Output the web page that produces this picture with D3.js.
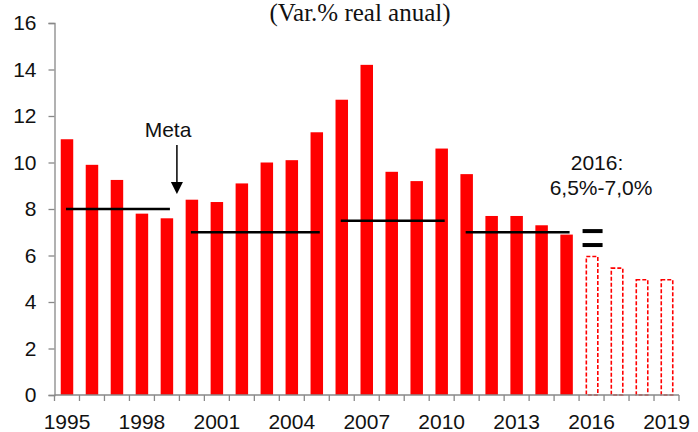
<!DOCTYPE html>
<html><head><meta charset="utf-8">
<script src="https://cdn.jsdelivr.net/npm/d3@7"></script>
<style>body{margin:0;background:#fff}svg{display:block}</style>
</head><body>
<script>
const years = d3.range(1995, 2020).map(String);
const values = [11.0, 9.9, 9.25, 7.8, 7.6, 8.4, 8.3, 9.1, 10.0, 10.1, 11.3, 12.7, 14.2, 9.6, 9.2, 10.6, 9.5, 7.7, 7.7, 7.3, 6.9, 6.0, 5.5, 5.0, 5.0];
const projected = ["2016", "2017", "2018", "2019"];
const tickYears = ["1995","1998","2001","2004","2007","2010","2013","2016","2019"];
const yTicks = [0,2,4,6,8,10,12,14,16];
const metaStart = ["1995","2000","2006","2011"];
const metaEnd   = ["1999","2005","2010","2015"];
const metaValue = [8.0, 7.0, 7.5, 7.0];
const range2016 = [7.05, 6.45];

const W = 698, H = 432;
const svg = d3.select("body").append("svg").attr("width", W).attr("height", H);

const x = d3.scaleBand().domain(years).range([54.5, 679]).paddingInner(0.5).paddingOuter(0.25);
const y = d3.scaleLinear().domain([0, 16]).range([395, 23]);

// title
svg.append("text").attr("x", 360).attr("y", 21).attr("text-anchor", "middle")
  .attr("font-family", "Liberation Serif, serif").attr("font-size", 25).attr("fill", "#111")
  .text("(Var.% real anual)");

// bars
const data = years.map((yr, i) => ({yr, v: values[i], proj: projected.includes(yr)}));
svg.selectAll("rect.bar").data(data).join("rect")
  .attr("x", d => x(d.yr) + (d.proj ? 1 : 0))
  .attr("width", d => x.bandwidth() - (d.proj ? 1 : 0))
  .attr("y", d => y(d.v) + (d.proj ? 1 : 0))
  .attr("height", d => y(0) - y(d.v) - (d.proj ? 1 : 0))
  .attr("fill", d => d.proj ? "#fff" : "#ff0000")
  .attr("stroke", d => d.proj ? "#ff0000" : "none")
  .attr("stroke-width", 1.6)
  .attr("stroke-dasharray", d => d.proj ? "4,2" : null);

// axes
const yAxis = svg.append("g").attr("transform", "translate(54.5,0)")
  .call(d3.axisLeft(y).tickValues(yTicks).tickSize(6).tickPadding(12).tickFormat(d3.format("d")));
yAxis.select(".domain").attr("stroke", "#888").attr("stroke-width", 1.3);
yAxis.selectAll(".tick line").attr("stroke", "#888").attr("stroke-width", 1.3);
yAxis.selectAll("text").attr("font-family", "Liberation Sans, Arial, sans-serif").attr("font-size", 21).attr("fill", "#111");

const xAxis = svg.append("g").attr("transform", "translate(0,395)");
xAxis.append("line").attr("x1", 54.5).attr("x2", 679).attr("y1", 0).attr("y2", 0).attr("stroke", "#888").attr("stroke-width", 1.3);
const step = x.step();
const bounds = years.map(yr => x(yr) - (step - x.bandwidth()) / 2).concat([679]);
xAxis.selectAll("line.t").data(bounds).join("line")
  .attr("x1", d => d).attr("x2", d => d).attr("y1", 0).attr("y2", 6)
  .attr("stroke", "#888").attr("stroke-width", 1.3);
xAxis.selectAll("text").data(tickYears).join("text")
  .attr("x", d => x(d) + x.bandwidth() / 2).attr("y", 34)
  .attr("text-anchor", "middle")
  .attr("font-family", "Liberation Sans, Arial, sans-serif").attr("font-size", 21).attr("fill", "#111")
  .text(d => d);

// meta lines
metaStart.forEach((s, i) => {
  svg.append("line")
    .attr("x1", x(s) + x.bandwidth() / 2 - 1)
    .attr("x2", x(metaEnd[i]) + x.bandwidth() / 2 + 3)
    .attr("y1", y(metaValue[i])).attr("y2", y(metaValue[i]))
    .attr("stroke", "#000").attr("stroke-width", 2.5);
});
// 2016 range marks
range2016.forEach(v => {
  svg.append("line")
    .attr("x1", x("2016") + x.bandwidth() / 2 - 9)
    .attr("x2", x("2016") + x.bandwidth() / 2 + 11)
    .attr("y1", y(v)).attr("y2", y(v))
    .attr("stroke", "#000").attr("stroke-width", 4);
});

// Meta annotation
svg.append("text").attr("x", 168).attr("y", 137).attr("text-anchor", "middle")
  .attr("font-family", "Liberation Sans, Arial, sans-serif").attr("font-size", 21).attr("fill", "#111")
  .text("Meta");
const ax = x("1999") + x.bandwidth() / 2 + 10;
svg.append("line").attr("x1", ax).attr("x2", ax).attr("y1", 145).attr("y2", 184)
  .attr("stroke", "#000").attr("stroke-width", 1.5);
svg.append("path").attr("d", `M${ax-6},182 L${ax+6},182 L${ax},194 Z`).attr("fill", "#000");

// 2016 annotation
svg.append("text").attr("x", 597).attr("y", 170).attr("text-anchor", "middle")
  .attr("font-family", "Liberation Sans, Arial, sans-serif").attr("font-size", 21).attr("fill", "#111")
  .text("2016:");
svg.append("text").attr("x", 601).attr("y", 195).attr("text-anchor", "middle")
  .attr("font-family", "Liberation Sans, Arial, sans-serif").attr("font-size", 21).attr("fill", "#111")
  .text("6,5%-7,0%");
</script>
</body></html>
